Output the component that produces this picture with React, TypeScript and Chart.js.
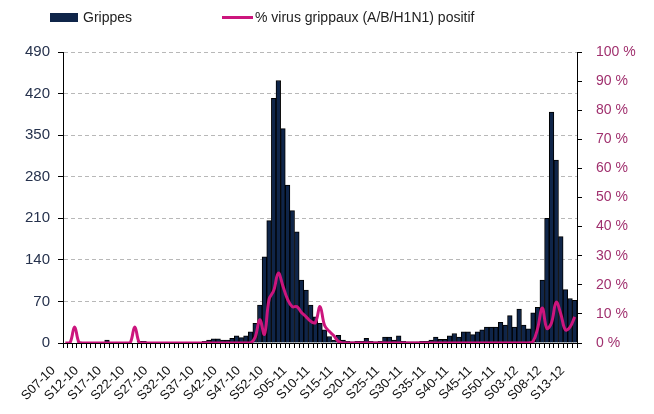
import React, { useEffect, useRef } from 'react';
import { Chart, registerables } from 'chart.js';

Chart.register(...registerables);

const weeks: string[] = [
  'S07-10','S08-10','S09-10','S10-10','S11-10','S12-10','S13-10','S14-10','S15-10','S16-10',
  'S17-10','S18-10','S19-10','S20-10','S21-10','S22-10','S23-10','S24-10','S25-10','S26-10',
  'S27-10','S28-10','S29-10','S30-10','S31-10','S32-10','S33-10','S34-10','S35-10','S36-10',
  'S37-10','S38-10','S39-10','S40-10','S41-10','S42-10','S43-10','S44-10','S45-10','S46-10',
  'S47-10','S48-10','S49-10','S50-10','S51-10','S52-10',
  'S01-11','S02-11','S03-11','S04-11','S05-11','S06-11','S07-11','S08-11','S09-11','S10-11',
  'S11-11','S12-11','S13-11','S14-11','S15-11','S16-11','S17-11','S18-11','S19-11','S20-11',
  'S21-11','S22-11','S23-11','S24-11','S25-11','S26-11','S27-11','S28-11','S29-11','S30-11',
  'S31-11','S32-11','S33-11','S34-11','S35-11','S36-11','S37-11','S38-11','S39-11','S40-11',
  'S41-11','S42-11','S43-11','S44-11','S45-11','S46-11','S47-11','S48-11','S49-11','S50-11',
  'S51-11','S52-11',
  'S01-12','S02-12','S03-12','S04-12','S05-12','S06-12','S07-12','S08-12','S09-12','S10-12',
  'S11-12','S12-12','S13-12'
];

const grippes: number[] = [
  0, 0, 0, 2, 0, 0, 0, 0, 0, 5,
  0, 0, 0, 0, 0, 0, 3, 3, 0, 0,
  0, 0, 0, 0, 0, 0, 0, 0, 0, 0,
  3, 5, 7, 7, 5, 5, 8, 12, 9, 12,
  19, 33, 64, 145, 206, 412, 442, 361, 266, 223,
  187, 106, 89, 64, 44, 33, 22, 11, 5, 13,
  5, 3, 2, 3, 3, 8, 3, 2, 3, 10,
  10, 5, 12, 3, 2, 2, 2, 3, 3, 5,
  10, 6, 6, 12, 16, 10, 19, 19, 14, 19,
  22, 27, 27, 27, 35, 30, 46, 27, 57, 30,
  24, 51, 60, 106, 210, 389, 308, 179, 90, 75, 72
];

const virusPct: number[] = [
  0, 0, 5.5, 0, 0, 0, 0, 0, 0, 0,
  0, 0, 0, 0, 0, 5.5, 0, 0, 0, 0,
  0, 0, 0, 0, 0, 0, 0, 0, 0, 0,
  0, 0, 0, 0, 0, 0, 0, 0, 0, 0,
  0, 2, 8, 3, 15, 18, 24, 19.5, 15, 12.5,
  12.5, 10.5, 9, 7.5, 7, 12.5, 6, 4, 2.5, 0.5,
  0, 0, 0, 0, 0, 0, 0, 0, 0, 0,
  0, 0, 0, 0, 0, 0, 0, 0, 0, 0,
  0, 0, 0, 0, 0, 0, 0, 0, 0, 0,
  0, 0, 0, 0, 0, 0, 0, 0, 0, 0,
  0, 0.5, 5, 12, 5, 7, 14, 10, 4.5, 5.5, 9
];

const seriesNames = ['Grippes', '% virus grippaux (A/B/H1N1) positif'];

const FONT = '"Liberation Sans", Arial, sans-serif';
const BAR_COLOR = '#0f2549';
const LINE_COLOR = '#cc157d';

export default function App() {
  const ref = useRef<HTMLCanvasElement | null>(null);

  useEffect(() => {
    if (!ref.current) return;
    const chart = new Chart(ref.current, {
      data: {
        labels: weeks,
        datasets: [
          {
            type: 'line',
            label: seriesNames[1],
            data: virusPct,
            yAxisID: 'y1',
            borderColor: LINE_COLOR,
            borderWidth: 3,
            pointRadius: 0,
            tension: 0.4,
            order: 0,
          } as any,
          {
            type: 'bar',
            label: seriesNames[0],
            data: grippes,
            yAxisID: 'y',
            backgroundColor: BAR_COLOR,
            borderColor: '#000000',
            borderWidth: 1,
            categoryPercentage: 1,
            barPercentage: 1,
            order: 1,
          } as any,
        ],
      },
      options: {
        animation: false,
        responsive: false,
        maintainAspectRatio: false,
        layout: { padding: { top: 44, left: 0, right: 0, bottom: 0 } },
        plugins: { legend: { display: false }, tooltip: { enabled: false } },
        scales: {
          x: {
            afterFit: (s: any) => { s.height = 63; },
            grid: {
              display: true,
              drawOnChartArea: false,
              drawTicks: true,
              tickLength: 5,
              tickColor: '#000000',
              color: '#000000',
              offset: true,
            },
            border: { color: '#000000', width: 1 },
            ticks: {
              autoSkip: false,
              maxRotation: 45,
              minRotation: 45,
              labelOffset: -12,
              padding: 15,
              color: '#111111',
              font: { family: FONT, size: 13 },
              callback: (_v: any, i: number) => (i % 5 === 0 ? weeks[i] : ''),
            },
          },
          y: {
            position: 'left',
            min: 0,
            max: 490,
            afterFit: (s: any) => { s.width = 55; },
            ticks: {
              stepSize: 70,
              padding: 8,
              color: '#26324d',
              font: { family: FONT, size: 15 },
            },
            grid: {
              color: '#b8b8b8',
              lineWidth: 1,
              drawTicks: true,
              tickLength: 5,
              tickColor: '#000000',
            },
            border: { color: '#000000', width: 1, dash: [4, 3] },
          },
          y1: {
            position: 'right',
            min: 0,
            max: 100,
            afterFit: (s: any) => { s.width = 69; },
            ticks: {
              stepSize: 10,
              padding: 14,
              color: '#a0306e',
              font: { family: FONT, size: 14 },
              callback: (v: any) => `${v} %`,
            },
            grid: {
              drawOnChartArea: false,
              drawTicks: true,
              tickLength: 5,
              tickColor: '#000000',
            },
            border: { color: '#000000', width: 1 },
          },
        },
      } as any,
    });
    return () => chart.destroy();
  }, []);

  return (
    <div style={{ position: 'relative', width: 638, height: 398, fontFamily: FONT }}>
      <canvas ref={ref} width={638} height={398} style={{ display: 'block' }} />
      <div style={{ position: 'absolute', left: 42, top: 5, width: 28, height: 9, background: BAR_COLOR }} />
      <div style={{ position: 'absolute', left: 75, top: 1, fontSize: 14, lineHeight: '16px', color: '#222' }}>
        {seriesNames[0]}
      </div>
      <div style={{ position: 'absolute', left: 214, top: 8, width: 31, height: 3, background: LINE_COLOR }} />
      <div style={{ position: 'absolute', left: 247, top: 1, fontSize: 14, lineHeight: '16px', color: '#222' }}>
        {seriesNames[1]}
      </div>
    </div>
  );
}
